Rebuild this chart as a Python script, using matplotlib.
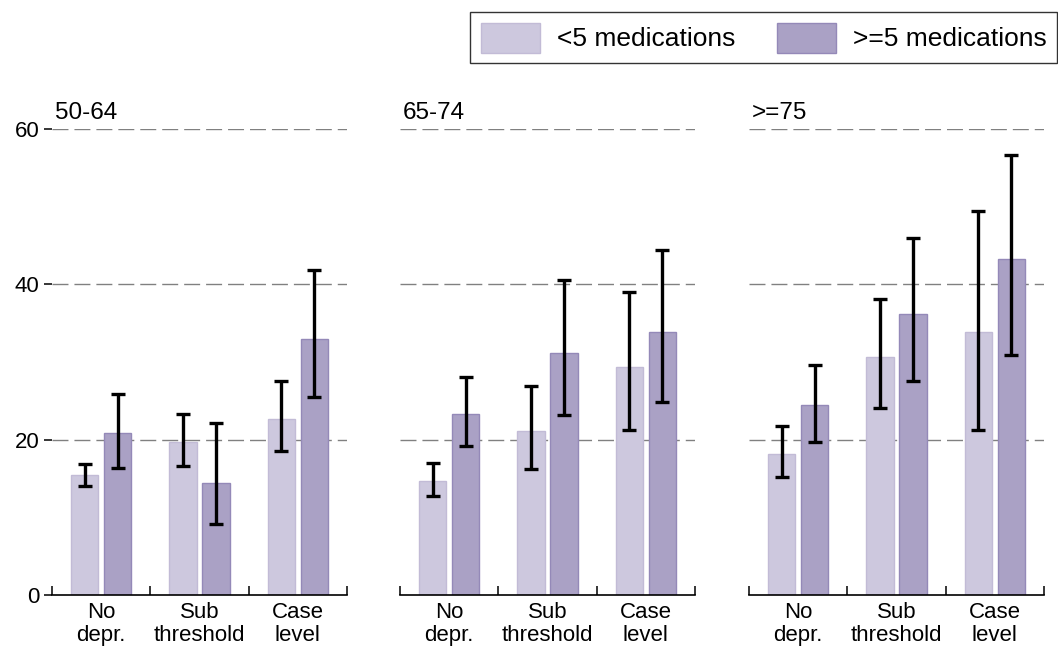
import matplotlib
matplotlib.use("Agg")
import matplotlib.pyplot as plt
import matplotlib.transforms as mtransforms
from matplotlib.patches import Patch
import numpy as np

plt.rcParams['font.family'] = ['Liberation Sans', 'DejaVu Sans']

age_groups = ['50-64', '65-74', '>=75']
categories = ['No\ndepr.', 'Sub\nthreshold', 'Case\nlevel']
series_names = ['<5 medications', '>=5 medications']

lt5_vals = [[15.5, 19.7, 22.7], [14.7, 21.1, 29.3], [18.2, 30.7, 33.9]]
lt5_lo = [[14.0, 16.6, 18.6], [12.7, 16.2, 21.2], [15.2, 24.1, 21.2]]
lt5_hi = [[16.9, 23.3, 27.5], [17.0, 26.9, 39.0], [21.8, 38.1, 49.4]]

ge5_vals = [[20.8, 14.4, 33.0], [23.3, 31.2, 33.9], [24.4, 36.2, 43.3]]
ge5_lo = [[16.3, 9.1, 25.5], [19.2, 23.2, 24.8], [19.7, 27.5, 30.9]]
ge5_hi = [[25.9, 22.1, 41.8], [28.1, 40.5, 44.4], [29.6, 46.0, 56.6]]

yticks = [0, 20, 40, 60]

light_fc, light_ec = '#cdc8de', '#c2bbd6'
dark_fc, dark_ec = '#aaa1c5', '#9489b8'

W, H = 1058, 647
fig = plt.figure(figsize=(W / 100, H / 100), dpi=100)

lefts = [52, 400, 749]
axw = 295
bottom_px, top_px = 595, 129

offset = 0.168
bw = 0.276
x = np.arange(len(categories))

for i, ag in enumerate(age_groups):
    ax = fig.add_axes([lefts[i] / W, 1 - bottom_px / H, axw / W, (bottom_px - top_px) / H])
    ax.set_xlim(-0.5, 2.5)
    ax.set_ylim(0, 60)
    for yv in yticks[1:]:
        ax.axhline(yv, color='#808080', lw=1.0, dashes=(11.5, 4.3), zorder=0)

    v1 = np.array(lt5_vals[i]); v2 = np.array(ge5_vals[i])
    e1 = [v1 - np.array(lt5_lo[i]), np.array(lt5_hi[i]) - v1]
    e2 = [v2 - np.array(ge5_lo[i]), np.array(ge5_hi[i]) - v2]
    ax.bar(x - offset, v1, bw, color=light_fc, edgecolor=light_ec, lw=1.0, zorder=2)
    ax.bar(x + offset, v2, bw, color=dark_fc, edgecolor=dark_ec, lw=1.0, zorder=2)
    ax.errorbar(x - offset, v1, yerr=e1, fmt='none', ecolor='black', elinewidth=2.4,
                capsize=4.8, capthick=2.4, zorder=3)
    ax.errorbar(x + offset, v2, yerr=e2, fmt='none', ecolor='black', elinewidth=2.4,
                capsize=4.8, capthick=2.4, zorder=3)

    for s in ['top', 'right', 'left']:
        ax.spines[s].set_visible(False)
    ax.spines['bottom'].set_linewidth(1.2)
    ax.spines['bottom'].set_zorder(4)

    ax.set_xticks([-0.5, 0.5, 1.5, 2.5])
    ax.set_xticklabels([])
    ax.tick_params(axis='x', which='major', direction='in', length=6.5, width=1.1)
    ax.set_xticks(x, minor=True)
    ax.set_xticklabels(categories, minor=True, fontsize=16, linespacing=1.12)
    ax.tick_params(axis='x', which='minor', length=0, pad=5)

    if i == 0:
        ax.set_yticks(yticks)
        ax.set_yticklabels([str(t) for t in yticks], fontsize=16)
        ax.tick_params(axis='y', direction='out', length=6, width=1.1, pad=3)
    else:
        ax.set_yticks([])

    trans = mtransforms.offset_copy(ax.transData, fig=fig, x=0, y=5, units='dots')
    ax.text(-0.47, 60, ag, fontsize=17.5, ha='left', va='bottom', transform=trans,
            bbox=dict(facecolor='white', edgecolor='none', alpha=0.85, pad=3), zorder=5)

handles = [Patch(facecolor=light_fc, edgecolor=light_ec, label=series_names[0]),
           Patch(facecolor=dark_fc, edgecolor=dark_ec, label=series_names[1])]
leg = fig.legend(handles=handles, loc='upper right', bbox_to_anchor=(0.9995, 1 - 12 / H), ncol=2,
                 fontsize=19, frameon=True, fancybox=False, edgecolor='black',
                 handlelength=2.25, handleheight=1.37, handletextpad=0.65,
                 columnspacing=1.55, borderpad=0.4, borderaxespad=0)
leg.get_frame().set_linewidth(1.0)

fig.savefig('out.png', dpi=100)
